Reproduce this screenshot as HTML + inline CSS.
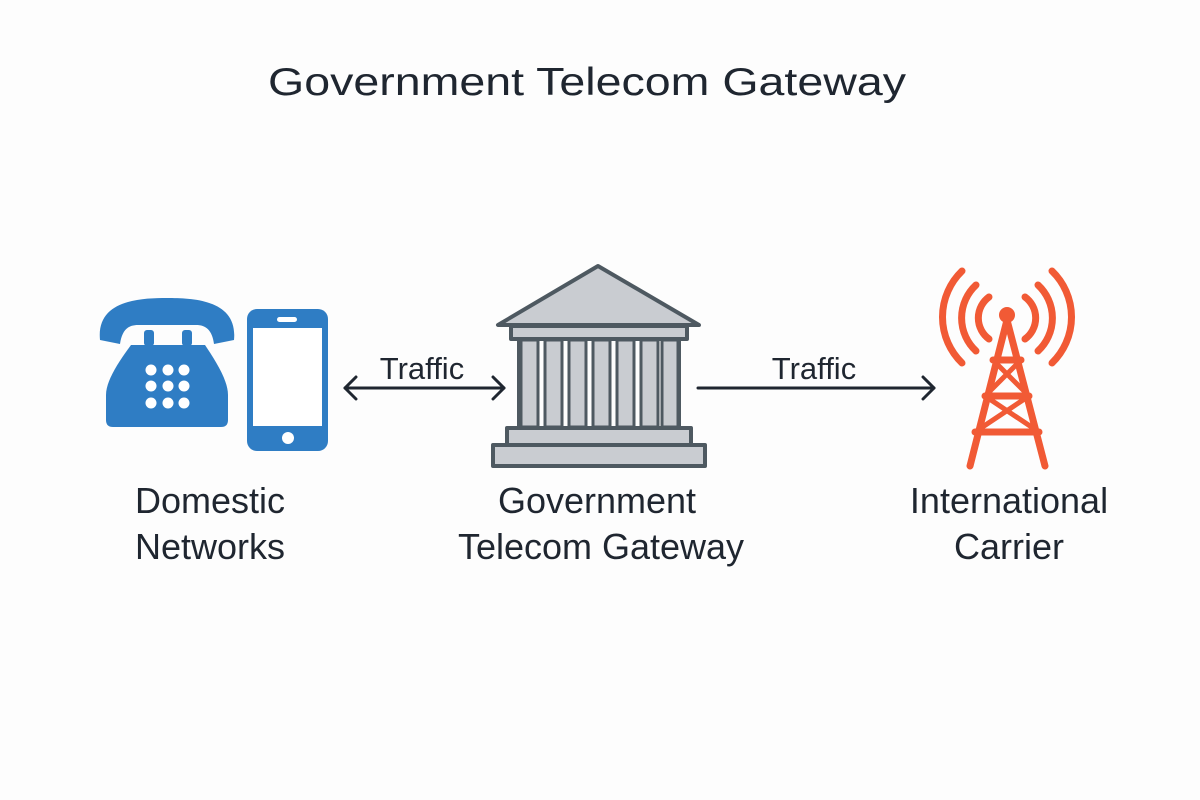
<!DOCTYPE html>
<html><head><meta charset="utf-8"><style>
html,body{margin:0;padding:0;background:#fdfdfd;}
svg{display:block;}
text{font-family:"Liberation Sans",sans-serif;fill:#1f2630;}
</style></head><body>
<svg width="1200" height="800" viewBox="0 0 1200 800" xmlns="http://www.w3.org/2000/svg">
<rect width="1200" height="800" fill="#fdfdfd"/>
<text x="587" y="95" font-size="39" text-anchor="middle" textLength="638" lengthAdjust="spacingAndGlyphs" font-weight="500">Government Telecom Gateway</text>

<!-- phone -->
<g fill="#2f7dc4">
<path d="M100,340 C96,300 140,298 167,298 C194,298 238,300 234,340 L214,344 C212,330 206,325 196,325 L138,325 C128,325 122,330 120,344 Z"/>
<rect x="144" y="330" width="10" height="16" rx="3"/>
<rect x="182" y="330" width="10" height="16" rx="3"/>
<path d="M131,345 L205,345 C215,360 228,380 228,395 L228,420 Q228,427 221,427 L113,427 Q106,427 106,420 L106,395 C106,380 120,360 131,345 Z"/>
<rect x="247" y="309" width="81" height="142" rx="10"/>
</g>
<g fill="#fff">
<circle cx="151" cy="370" r="5.5"/><circle cx="168" cy="370" r="5.5"/><circle cx="184" cy="370" r="5.5"/>
<circle cx="151" cy="386" r="5.5"/><circle cx="168" cy="386" r="5.5"/><circle cx="184" cy="386" r="5.5"/>
<circle cx="151" cy="403" r="5.5"/><circle cx="168" cy="403" r="5.5"/><circle cx="184" cy="403" r="5.5"/>
<rect x="253" y="328" width="69" height="98"/>
<rect x="277" y="317" width="20" height="5" rx="2.5"/>
<circle cx="288" cy="438" r="6"/>
</g>

<!-- arrows -->
<g stroke="#1f2630" stroke-width="3" fill="none" stroke-linecap="round" stroke-linejoin="round">
<line x1="345" y1="388" x2="504" y2="388"/>
<polyline points="356,377 345,388 356,399"/>
<polyline points="493,377 504,388 493,399"/>
<line x1="698" y1="388" x2="934" y2="388"/>
<polyline points="923,377 934,388 923,399"/>
</g>
<text x="422" y="379" font-size="31" text-anchor="middle">Traffic</text>
<text x="814" y="379" font-size="31" text-anchor="middle">Traffic</text>

<!-- building -->
<g fill="#c9ccd1" stroke="#4e5961" stroke-width="4" stroke-linejoin="round">
<polygon points="598,266 498,325 699,325"/>
<rect x="511" y="326" width="176" height="13"/>
<rect x="519" y="339" width="160" height="89" fill="#fdfdfd"/>
<rect x="507" y="428" width="184" height="17"/>
<rect x="493" y="445" width="212" height="21"/>
</g>
<g fill="#c9ccd1" stroke="#4e5961" stroke-width="3">
<rect x="521" y="340" width="17" height="87"/>
<rect x="545" y="340" width="17" height="87"/>
<rect x="569" y="340" width="17" height="87"/>
<rect x="593" y="340" width="17" height="87"/>
<rect x="617" y="340" width="17" height="87"/>
<rect x="641" y="340" width="17" height="87"/>
<rect x="662" y="340" width="16" height="87"/>
</g>

<!-- tower -->
<g stroke="#f15a35" stroke-width="7" fill="none" stroke-linecap="round">
<path d="M1007,320 L970,466 M1007,320 L1045,466"/>
<line x1="993" y1="360" x2="1021" y2="360"/>
<line x1="985" y1="396" x2="1029" y2="396"/>
<line x1="975" y1="432" x2="1039" y2="432"/>
<path d="M993,360 L1029,396 M1021,360 L985,396 M985,396 L1039,432 M1029,396 L975,432" stroke-width="5"/>
<path d="M989,297 A26,26 0 0 0 989,339"/>
<path d="M1025,297 A26,26 0 0 1 1025,339"/>
<path d="M976,285 A45,45 0 0 0 976,351"/>
<path d="M1038,285 A45,45 0 0 1 1038,351"/>
<path d="M962,271 A64,64 0 0 0 962,363"/>
<path d="M1052,271 A64,64 0 0 1 1052,363"/>
</g>
<circle cx="1007" cy="315" r="8" fill="#f15a35"/>

<!-- labels -->
<g font-size="36" text-anchor="middle">
<text x="210" y="513">Domestic</text>
<text x="210" y="559">Networks</text>
<text x="597" y="513">Government</text>
<text x="601" y="559">Telecom Gateway</text>
<text x="1009" y="513">International</text>
<text x="1009" y="559">Carrier</text>
</g>
</svg>
</body></html>
